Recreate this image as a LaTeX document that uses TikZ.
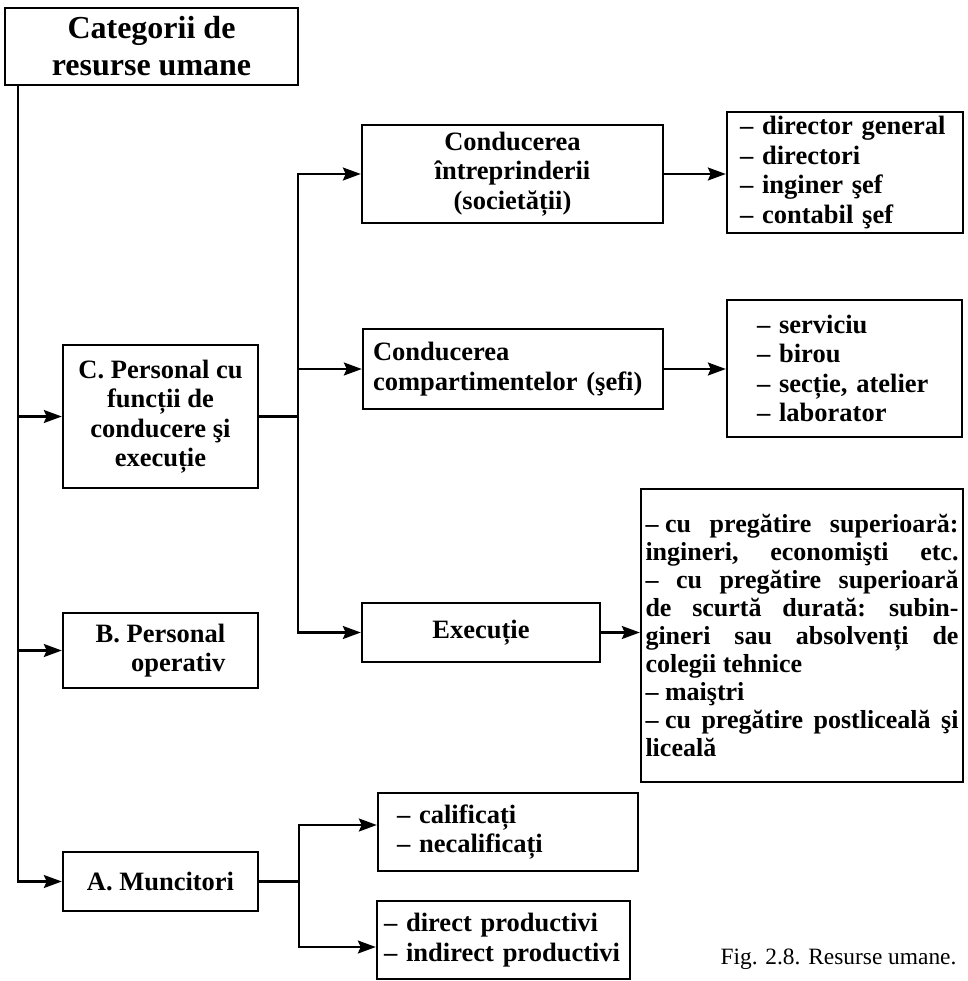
\documentclass[tikz,border=0pt]{standalone}
\usepackage{fontspec}
\setmainfont{Liberation Serif}
\usetikzlibrary{arrows.meta}
\newcommand\jline[1]{\hbox to 313pt{#1}}
\begin{document}
\begin{tikzpicture}[x=1pt,y=-1pt,
  box/.style={draw, line width=2.4pt, inner sep=0pt, font=\bfseries\fontsize{26.5}{29.5}\selectfont},
  ln/.style={line width=2.2pt},
  arr/.style={line width=2.2pt, -{Stealth[length=18pt,width=13pt,inset=3pt]}}]
\useasboundingbox (0,0) rectangle (967,981);

\node[box, font=\bfseries\fontsize{32}{37}\selectfont, minimum width=293pt, minimum height=77pt, align=center] (T) at (151.5,46.5) {Categorii de\\resurse umane};

\node[box, minimum width=195pt, minimum height=143pt, align=center] (C) at (160.5,416.5) {C. Personal cu\\funcții de\\conducere şi\\execuție};
\node[box, minimum width=195pt, minimum height=75pt, align=right] (B) at (160.5,650.5) {B. Personal\\operativ};
\node[box, minimum width=195pt, minimum height=59pt, align=center] (A) at (160.5,881.5) {A. Muncitori};

\node[box, minimum width=301pt, minimum height=98pt, align=center] (CI) at (512.5,174) {Conducerea\\întreprinderii\\(societății)};
\node[box, minimum width=300pt, minimum height=80pt, text width=280pt, inner xsep=10pt, align=left] (CC) at (513,369) {Conducerea\\compartimentelor (şefi)};
\node[box, minimum width=238pt, minimum height=59pt, align=center] (EX) at (481,632.5) {Execuție};

\node[box, minimum width=236pt, minimum height=121pt, text width=210pt, inner xsep=13pt, align=left] (R1) at (845,172.5) {– director general\\– directori\\– inginer şef\\– contabil şef};
\node[box, minimum width=235pt, minimum height=137pt, text width=175pt, inner xsep=30pt, align=left] (R2) at (844.5,368.5) {– serviciu\\– birou\\– secție, atelier\\– laborator};
\node[box, minimum width=322pt, minimum height=293pt, inner xsep=4.5pt] (R3) at (802,635.5) {\parbox{313pt}{\fontsize{26}{28}\selectfont
\jline{– cu \hfill pregătire \hfill superioară:}
\jline{ingineri, \hfill economişti \hfill etc.}
\jline{– \hfill cu \hfill pregătire \hfill superioară}
\jline{de \hfill scurtă \hfill durată: \hfill subin-}
\jline{gineri \hfill sau \hfill absolvenți \hfill de}
\jline{colegii tehnice\hfill}
\jline{– maiştri\hfill}
\jline{– cu \hfill pregătire \hfill postliceală \hfill şi}
\jline{liceală\hfill}}};

\node[box, minimum width=260pt, minimum height=78pt, text width=222pt, inner xsep=19pt, align=left] (Q1) at (508,832) {– calificați\\– necalificați};
\node[box, minimum width=253pt, minimum height=78pt, text width=239pt, inner xsep=7pt, align=left] (Q2) at (503.5,940) {– direct productivi\\– indirect productivi};

\node[anchor=base east, font=\fontsize{23.4}{28}\selectfont] (cap) at (960,964) {Fig. 2.8. Resurse umane.};

\coordinate (t0) at (18,85);
\coordinate (vx) at (298,0);
\coordinate (wx) at (299,0);
\draw[arr] (t0) |- (A.west);
\draw[arr] (C.west -| t0) -- (C.west);
\draw[arr] (B.west -| t0) -- (B.west);
\draw[ln] (C.east) -- (C.east -| vx);
\draw[arr] (C.east -| vx) |- (CI.west);
\draw[arr] (C.east -| vx) |- (CC.west);
\draw[arr] (C.east -| vx) |- (EX.west);
\draw[arr] (CI.east) -- (CI.east -| R1.west);
\draw[arr] (CC.east) -- (CC.east -| R2.west);
\draw[arr] (EX.east) -- (EX.east -| R3.west);
\draw[ln] (A.east) -- (A.east -| wx);
\draw[arr] (A.east -| wx) |- ([yshift=7pt]Q1.west);
\draw[arr] (A.east -| wx) |- ([yshift=-7pt]Q2.west);
\end{tikzpicture}
\end{document}
